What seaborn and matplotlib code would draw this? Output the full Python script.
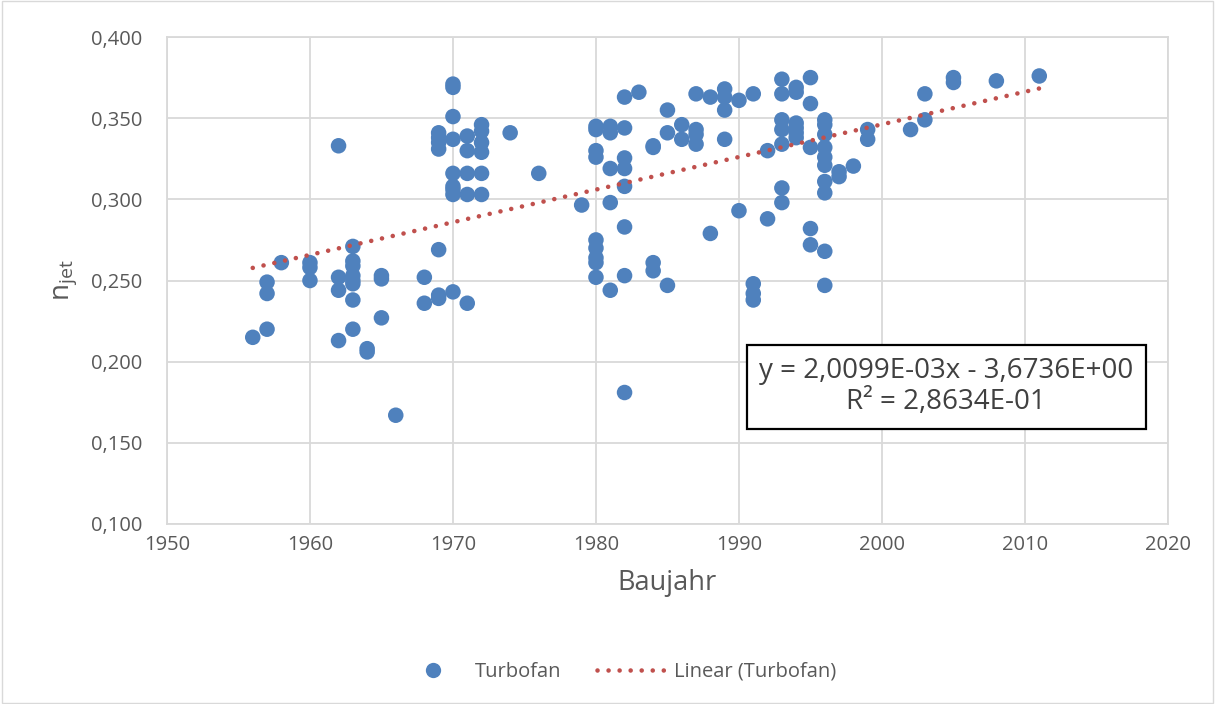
import numpy as np
import pandas as pd
import matplotlib
matplotlib.use("Agg")
import matplotlib.pyplot as plt
import seaborn as sns
from matplotlib.lines import Line2D

# ---- data ----
years = [1956,
         1957, 1957, 1957,
         1958,
         1960, 1960, 1960,
         1962, 1962, 1962, 1962,
         1963, 1963, 1963, 1963, 1963, 1963, 1963, 1963,
         1964, 1964,
         1965, 1965, 1965,
         1966,
         1968, 1968,
         1969, 1969, 1969, 1969, 1969, 1969, 1969,
         1970, 1970, 1970, 1970, 1970, 1970, 1970, 1970, 1970,
         1971, 1971, 1971, 1971, 1971,
         1972, 1972, 1972, 1972, 1972, 1972,
         1974, 1976, 1979,
         1980, 1980, 1980, 1980, 1980, 1980, 1980, 1980, 1980,
         1981, 1981, 1981, 1981, 1981,
         1982, 1982, 1982, 1982, 1982, 1982, 1982, 1982,
         1983,
         1984, 1984, 1984, 1984,
         1985, 1985, 1985,
         1986, 1986,
         1987, 1987, 1987, 1987,
         1988, 1988,
         1989, 1989, 1989, 1989,
         1990, 1990,
         1991, 1991, 1991, 1991,
         1992, 1992,
         1993, 1993, 1993, 1993, 1993, 1993, 1993,
         1994, 1994, 1994, 1994, 1994, 1994,
         1995, 1995, 1995, 1995, 1995,
         1996, 1996, 1996, 1996, 1996, 1996, 1996, 1996, 1996, 1996,
         1997, 1997,
         1998,
         1999, 1999,
         2002,
         2003, 2003,
         2005, 2005,
         2008,
         2011]
eta_jet = [0.215,
           0.249, 0.242, 0.220,
           0.261,
           0.261, 0.258, 0.250,
           0.333, 0.252, 0.244, 0.213,
           0.271, 0.262, 0.259, 0.253, 0.250, 0.248, 0.238, 0.220,
           0.208, 0.206,
           0.253, 0.251, 0.227,
           0.167,
           0.252, 0.236,
           0.341, 0.338, 0.335, 0.331, 0.269, 0.241, 0.239,
           0.371, 0.369, 0.351, 0.337, 0.316, 0.308, 0.306, 0.303, 0.243,
           0.339, 0.330, 0.316, 0.303, 0.236,
           0.346, 0.342, 0.335, 0.329, 0.316, 0.303,
           0.341, 0.316, 0.2965,
           0.345, 0.343, 0.330, 0.326, 0.275, 0.270, 0.264, 0.261, 0.252,
           0.345, 0.341, 0.319, 0.298, 0.244,
           0.363, 0.344, 0.3255, 0.319, 0.308, 0.283, 0.253, 0.181,
           0.366,
           0.333, 0.332, 0.261, 0.256,
           0.355, 0.341, 0.247,
           0.346, 0.337,
           0.365, 0.343, 0.340, 0.334,
           0.363, 0.279,
           0.368, 0.363, 0.355, 0.337,
           0.361, 0.293,
           0.365, 0.248, 0.242, 0.238,
           0.330, 0.288,
           0.374, 0.365, 0.349, 0.343, 0.334, 0.307, 0.298,
           0.369, 0.366, 0.347, 0.344, 0.341, 0.338,
           0.375, 0.359, 0.332, 0.282, 0.272,
           0.349, 0.346, 0.340, 0.332, 0.326, 0.321, 0.311, 0.304, 0.268, 0.247,
           0.317, 0.314,
           0.3205,
           0.343, 0.337,
           0.343,
           0.365, 0.349,
           0.375, 0.372,
           0.373,
           0.376]

trend_slope = 2.0099e-03
trend_intercept = -3.6736
trend_r2 = 2.8634e-01

x_ticks = [1950, 1960, 1970, 1980, 1990, 2000, 2010, 2020]
y_ticks = [0.100, 0.150, 0.200, 0.250, 0.300, 0.350, 0.400]

series_name = "Turbofan"
trend_name = "Linear (Turbofan)"
eq_line1 = "y = 2,0099E-03x - 3,6736E+00"
eq_line2 = "R² = 2,8634E-01"

# ---- plotting ----
sns.set_theme(style="white")
plt.rcParams['font.family'] = ['Open Sans', 'DejaVu Sans']

df = pd.DataFrame({"Baujahr": years, "eta": eta_jet})
x_fit = np.array([min(years), max(years)], dtype=float)
fit_df = pd.DataFrame({"Baujahr": x_fit, "eta": trend_slope * x_fit + trend_intercept})

fig = plt.figure(figsize=(12.15, 7.04), dpi=100)
ax = fig.add_axes([0.1374, 0.2557, 0.8239, 0.6917])

blue = "#4F81BD"
red = "#C0504D"
grey_txt = "#595959"
dot_style = (0, (0.01, 2.4))

sns.scatterplot(data=df, x="Baujahr", y="eta", ax=ax, color=blue, s=125,
                edgecolor="none", linewidth=0, zorder=3, legend=False)
sns.lineplot(data=fit_df, x="Baujahr", y="eta", ax=ax, color=red,
             linestyle=dot_style, linewidth=3.3, dash_capstyle="round",
             zorder=4, legend=False)

ax.set_xlim(1950, 2020)
ax.set_ylim(0.100, 0.400)
ax.set_xticks(x_ticks)
ax.set_yticks(y_ticks)
ax.set_xticklabels([str(t) for t in x_ticks], color=grey_txt, fontsize=14.5)
ax.set_yticklabels([f"{t:.3f}".replace(".", ",") for t in y_ticks], color=grey_txt, fontsize=14.5)
ax.tick_params(axis="x", length=0, pad=8)
ax.tick_params(axis="y", length=0, pad=18)
ax.grid(True, color="#D9D9D9", linewidth=1.3)
ax.set_axisbelow(True)
for s in ax.spines.values():
    s.set_color("#D9D9D9")
    s.set_linewidth(1.3)

ax.set_xlabel("Baujahr", fontsize=19.5, color=grey_txt, labelpad=10)
ax.set_ylabel(r"n$_\mathregular{jet}$", fontsize=20, color=grey_txt, labelpad=8)

ax.text(2004.5, 0.1845, eq_line1 + "\n" + eq_line2, fontsize=20, color="#404040",
        ha="center", va="center", linespacing=1.15, zorder=5,
        bbox=dict(boxstyle="square,pad=0.45", facecolor="white", edgecolor="black", linewidth=1.6))

handles = [
    Line2D([0], [0], marker="o", linestyle="none", markersize=11, markerfacecolor=blue,
           markeredgecolor="none", label=series_name),
    Line2D([0], [0], color=red, linestyle=dot_style, linewidth=3.3,
           dash_capstyle="round", label=trend_name),
]
fig.legend(handles=handles, loc="center", bbox_to_anchor=(0.508, 0.0455), ncol=2,
           frameon=False, fontsize=14.5, labelcolor=grey_txt, handlelength=3.5,
           columnspacing=1.8, handletextpad=0.3)

# outer chart border
fig.patches.append(plt.Rectangle((0.002, 0.002), 0.996, 0.996, transform=fig.transFigure,
                                 fill=False, edgecolor="#D9D9D9", linewidth=1.0))

fig.savefig("out.png", dpi=100, facecolor="white")
